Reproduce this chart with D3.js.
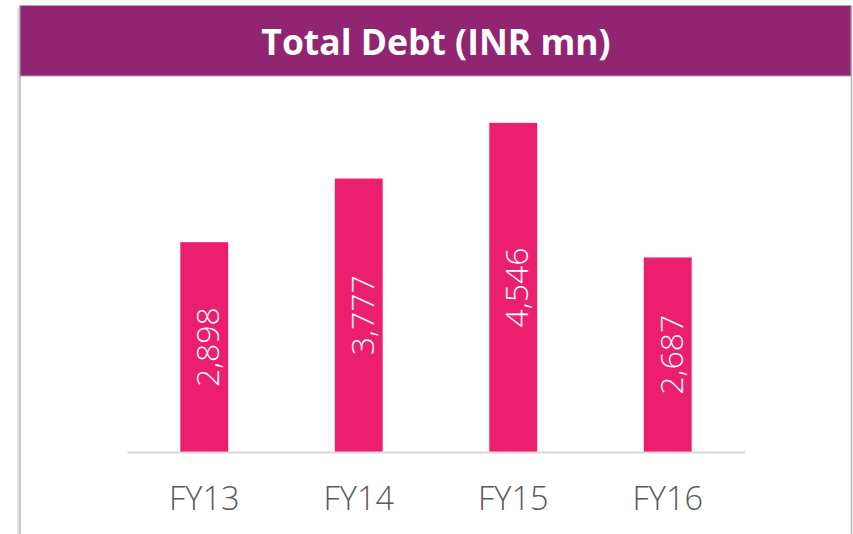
<!DOCTYPE html>
<html>
<head>
<meta charset="utf-8">
<script src="https://cdn.jsdelivr.net/npm/d3@7"></script>
<style>
  body { margin: 0; background: #fff; }
  svg { display: block; font-family: "Open Sans", "Noto Sans", sans-serif; }
</style>
</head>
<body>
<div id="chart"></div>
<script>
// data
var categories = ['FY13', 'FY14', 'FY15', 'FY16'];
var values = [2898, 3777, 4546, 2687];
var title = 'Total Debt (INR mn)';

var W = 853, H = 534;

var svg = d3.select('#chart').append('svg')
  .attr('width', W)
  .attr('height', H);

// panel frame + header
svg.append('line')
  .attr('x1', 18).attr('x2', 18).attr('y1', 8).attr('y2', H)
  .attr('stroke', '#e2e2e2').attr('stroke-width', 2);
svg.append('line')
  .attr('x1', 20).attr('x2', 20).attr('y1', 6).attr('y2', H)
  .attr('stroke', '#b5b5b5').attr('stroke-width', 1.5);
svg.append('line')
  .attr('x1', 851.5).attr('x2', 851.5).attr('y1', 6).attr('y2', H)
  .attr('stroke', '#b5b5b5').attr('stroke-width', 1.5);

svg.append('rect')
  .attr('x', 20).attr('y', 5.5)
  .attr('width', 831).attr('height', 70.5)
  .attr('fill', '#912572')
  .attr('stroke', '#a8a8a8').attr('stroke-width', 1);

svg.append('text')
  .attr('x', 436)
  .attr('y', 55)
  .attr('text-anchor', 'middle')
  .attr('fill', '#fff')
  .attr('font-weight', 'bold')
  .attr('font-size', 35.5)
  .text(title);

// scales
var x = d3.scaleBand()
  .domain(categories)
  .range([127, 745])
  .paddingInner(0.69)
  .paddingOuter(0.345);

var y = d3.scaleLinear()
  .domain([0, 5000])
  .range([452, 90]);

var gph = svg.append('g').attr('class', 'bar-graph');

gph.selectAll('rect.bar')
  .data(values)
  .enter()
  .append('rect')
  .attr('class', 'bar')
  .attr('x', (d,i) => x(categories[i]))
  .attr('y', (d) => y(d))
  .attr('width', x.bandwidth())
  .attr('height', (d) => y(0) - y(d))
  .attr('fill', '#ec1f6e');

// axis baseline
var xAxis = gph.append('g')
  .attr('transform', `translate(0, ${ y(0) })`)
  .call(d3.axisBottom(x).tickSize(0).tickPadding(58));

xAxis.select('.domain')
  .attr('stroke', '#d9d9d9')
  .attr('stroke-width', 2);

xAxis.selectAll('text')
  .attr('fill', '#595959')
  .attr('font-size', 32.5)
  .attr('font-weight', 350)
  .attr('font-family', '"Open Sans", "Noto Sans", sans-serif')
  .attr('dy', 0);

// value labels, rotated inside bars
gph.selectAll('text.value')
  .data(values)
  .enter()
  .append('text')
  .attr('class', 'value')
  .attr('transform', (d,i) => {
    var cx = x(categories[i]) + x.bandwidth() / 2 + 15;
    var cy = (y(d) + y(0)) / 2;
    return `translate(${ cx }, ${ cy }) rotate(-90)`;
  })
  .attr('text-anchor', 'middle')
  .attr('fill', '#fff')
  .attr('font-size', 32)
  .attr('font-weight', 300)
  .text((d) => d3.format(',')(d));
</script>
</body>
</html>
